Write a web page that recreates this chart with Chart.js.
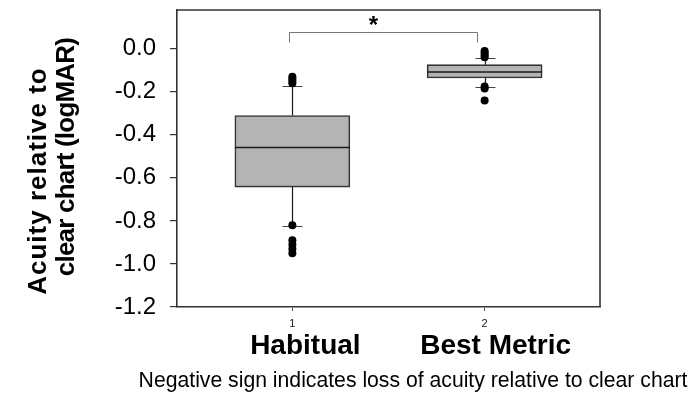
<!DOCTYPE html>
<html><head><meta charset="utf-8">
<script src="https://cdn.jsdelivr.net/npm/chart.js@4"></script>
<style>html,body{margin:0;padding:0;background:#fff}canvas{display:block}</style>
</head><body>
<canvas id="c" width="698" height="395"></canvas>
<script>
// ---- data ----
const categories = ['Habitual', 'Best Metric'];
const positions = [1, 2];
const q1 = [-0.643, -0.136];
const medians = [-0.459, -0.108];
const q3 = [-0.310, -0.074];
const whiskerLow = [-0.822, -0.178];
const whiskerHigh = [-0.171, -0.043];
const outliersHabitual = [-0.13, -0.14, -0.15, -0.16, -0.82, -0.89, -0.91, -0.93, -0.95];
const outliersBestMetric = [-0.01, -0.02, -0.03, -0.04, -0.175, -0.185, -0.24];
const yTicks = [-1.2, -1.0, -0.8, -0.6, -0.4, -0.2, 0.0];
const xTicks = [1, 2];
const significanceY = 0.08;
const significanceLabel = '*';
const yTitle = ['Acuity relative to', 'clear chart (logMAR)'];
const footnote = 'Negative sign indicates loss of acuity relative to clear chart';

const FONT = "'Liberation Sans', Arial, sans-serif";

const outlierPoints = [];
outliersHabitual.forEach(v => outlierPoints.push({x: positions[0], y: v}));
outliersBestMetric.forEach(v => outlierPoints.push({x: positions[1], y: v}));

const boxPlugin = {
  id: 'boxExtras',
  beforeDatasetsDraw(chart) {
    const {ctx, scales: {x, y}} = chart;
    ctx.save();
    positions.forEach((p, i) => {
      const cx = Math.round(x.getPixelForValue(p)) + 0.5;
      ctx.strokeStyle = '#1a1a1a';
      ctx.lineWidth = 1.2;
      ctx.beginPath();
      ctx.moveTo(cx, y.getPixelForValue(q3[i]));
      ctx.lineTo(cx, y.getPixelForValue(whiskerHigh[i]));
      ctx.moveTo(cx, y.getPixelForValue(q1[i]));
      ctx.lineTo(cx, y.getPixelForValue(whiskerLow[i]));
      ctx.stroke();
      ctx.strokeStyle = '#444';
      ctx.lineWidth = 1.2;
      ctx.beginPath();
      [whiskerHigh[i], whiskerLow[i]].forEach(v => {
        const py = Math.round(y.getPixelForValue(v)) + 0.5;
        ctx.moveTo(cx - 10, py); ctx.lineTo(cx + 10, py);
      });
      ctx.stroke();
    });
    ctx.restore();
  },
  afterDatasetsDraw(chart) {
    const {ctx, chartArea: a, scales: {x, y}} = chart;
    const barMeta = chart.getDatasetMeta(1);
    ctx.save();
    // medians
    ctx.strokeStyle = '#1a1a1a';
    ctx.lineWidth = 1.6;
    barMeta.data.forEach((bar, i) => {
      const py = y.getPixelForValue(medians[i]);
      ctx.beginPath();
      ctx.moveTo(bar.x - bar.width / 2, py);
      ctx.lineTo(bar.x + bar.width / 2, py);
      ctx.stroke();
    });
    // frame top and right
    ctx.strokeStyle = '#333';
    ctx.lineWidth = 1.6;
    ctx.beginPath();
    ctx.moveTo(a.left, a.top); ctx.lineTo(a.right, a.top); ctx.lineTo(a.right, a.bottom);
    ctx.stroke();
    // significance bracket
    const x1 = Math.round(x.getPixelForValue(positions[0]) - 3) + 0.5;
    const x2 = Math.round(x.getPixelForValue(positions[1]) - 8) + 0.5;
    const by = Math.round(y.getPixelForValue(significanceY)) + 0.5;
    ctx.strokeStyle = '#777';
    ctx.lineWidth = 1;
    ctx.beginPath();
    ctx.moveTo(x1, by + 10); ctx.lineTo(x1, by); ctx.lineTo(x2, by); ctx.lineTo(x2, by + 10);
    ctx.stroke();
    ctx.fillStyle = '#000';
    ctx.font = 'bold 24px ' + FONT;
    ctx.textAlign = 'center';
    ctx.textBaseline = 'alphabetic';
    ctx.fillText(significanceLabel, (x1 + x2) / 2 - 10, by);
    ctx.restore();
  },
  afterDraw(chart) {
    const {ctx, scales: {x}} = chart;
    ctx.save();
    ctx.fillStyle = '#000';
    // y title (two rotated lines)
    ctx.font = 'bold 26px ' + FONT;
    ctx.textAlign = 'center';
    ctx.textBaseline = 'alphabetic';
    const lines = [
      {t: yTitle[0], bx: 46, cy: 181, ls: '1px'},
      {t: yTitle[1], bx: 74, cy: 157, ls: '-0.8px'}
    ];
    lines.forEach(l => {
      ctx.save();
      ctx.letterSpacing = l.ls;
      ctx.translate(l.bx, l.cy);
      ctx.rotate(-Math.PI / 2);
      ctx.fillText(l.t, 0, 0);
      ctx.restore();
    });
    // category names
    ctx.font = 'bold 28px ' + FONT;
    const offs = [13, 11];
    categories.forEach((c, i) => {
      ctx.fillText(c, x.getPixelForValue(positions[i]) + offs[i], 354);
    });
    // footnote
    ctx.font = '21.2px ' + FONT;
    ctx.fillText(footnote, 413, 387);
    ctx.restore();
  }
};

new Chart(document.getElementById('c'), {
  type: 'bar',
  data: {
    datasets: [
      {
        type: 'scatter',
        data: outlierPoints,
        pointRadius: 4,
        pointBackgroundColor: '#000',
        pointBorderColor: '#000',
        pointBorderWidth: 0,
        pointHoverRadius: 4
      },
      {
        type: 'bar',
        data: positions.map((p, i) => ({x: p, y: [q1[i], q3[i]]})),
        backgroundColor: '#b4b4b4',
        borderColor: '#333',
        borderWidth: 1.6,
        borderSkipped: false,
        barThickness: 115
      }
    ]
  },
  options: {
    responsive: false,
    animation: false,
    devicePixelRatio: 1,
    layout: {padding: {top: 10, right: 98, left: 0, bottom: 0}},
    plugins: {legend: {display: false}, tooltip: {enabled: false}},
    scales: {
      x: {
        type: 'linear',
        offset: false,
        min: 0.4, max: 2.6,
        afterFit(s) { s.height = 88; s.paddingLeft = 0; s.paddingRight = 0; },
        afterBuildTicks(s) { s.ticks = xTicks.map(v => ({value: v})); },
        grid: {offset: false, drawOnChartArea: false, drawTicks: true, tickLength: 4, color: '#555', lineWidth: 1},
        border: {display: true, color: '#333', width: 1.6},
        ticks: {
          font: {family: FONT, size: 11}, color: '#222', padding: 6,
          callback: v => String(v), maxRotation: 0, autoSkip: false
        }
      },
      y: {
        min: -1.2, max: 0.18,
        afterFit(s) { s.width = 177; s.paddingTop = 0; s.paddingBottom = 0; },
        afterBuildTicks(s) { s.ticks = yTicks.map(v => ({value: v})); },
        grid: {drawOnChartArea: false, drawTicks: true, tickLength: 7, color: '#333', lineWidth: 1.2},
        border: {display: true, color: '#333', width: 1.6},
        ticks: {
          font: {family: FONT, size: 24}, color: '#000', padding: 14,
          callback: v => v.toFixed(1)
        }
      }
    }
  },
  plugins: [boxPlugin]
});
</script>
</body></html>
